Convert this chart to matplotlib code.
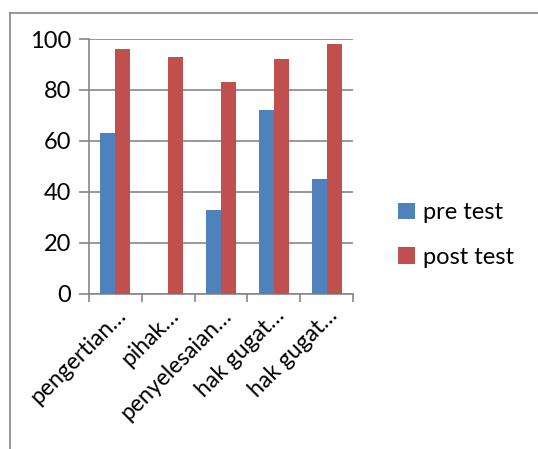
import matplotlib.pyplot as plt
import matplotlib.lines as mlines
import numpy as np

plt.rcParams['font.family'] = ['Lato', 'DejaVu Sans']

categories = ["pengertian…", "pihak…", "penyelesaian…", "hak gugat…", "hak gugat…"]
pre_test = [63, 0, 33, 72, 45]
post_test = [96, 93, 83, 92, 98]

fig = plt.figure(figsize=(5.38, 4.49), dpi=100)
ax = fig.add_axes([89/538, 1 - 293.5/449, 264/538, 254.5/449])

x = np.arange(len(categories))
w = 1 / 3.5
ax.bar(x - w/2, pre_test, w, color="#4F81BD", label="pre test", zorder=3)
ax.bar(x + w/2, post_test, w, color="#C0504D", label="post test", zorder=3)

ax.set_xlim(-0.5, len(categories) - 0.5)
ax.set_ylim(0, 100)
ax.set_yticks(range(0, 101, 20))
ax.yaxis.grid(True, color="#868686", linewidth=1.2, zorder=0)

gray = "#868686"
for s in ["top", "right"]:
    ax.spines[s].set_visible(False)
for s in ["left", "bottom"]:
    ax.spines[s].set_color(gray)
    ax.spines[s].set_linewidth(1.2)

ax.set_xticks(np.arange(len(categories) + 1) - 0.5, minor=True)
ax.set_xticks(x)
ax.set_xticklabels(categories, rotation=45, ha="right", rotation_mode="anchor")
ax.tick_params(axis="x", which="major", length=0, labelsize=16.5, pad=8)
ax.tick_params(axis="x", which="minor", length=6, color=gray, width=1.2)
ax.tick_params(axis="y", length=7, color=gray, width=1.2, labelsize=17, pad=6)

ax.legend(loc="center left", bbox_to_anchor=(1.09, 0.23), frameon=False,
          fontsize=17, handlelength=0.7, handleheight=0.7, labelspacing=1.0,
          handletextpad=0.35)

fig.add_artist(mlines.Line2D([10/538, 1], [1 - 12.5/449, 1 - 12.5/449],
                             color=gray, linewidth=1.2, transform=fig.transFigure))
fig.add_artist(mlines.Line2D([10/538, 10/538], [1 - 12.5/449, 0],
                             color=gray, linewidth=1.2, transform=fig.transFigure))

fig.savefig("out.png", dpi=100)
